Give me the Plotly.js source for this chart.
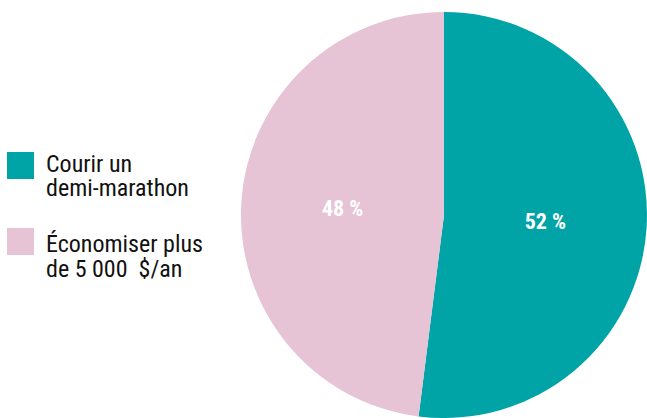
<!DOCTYPE html>
<html><head><meta charset="utf-8">
<script src="https://cdn.plot.ly/plotly-3.0.1.min.js"></script>
<style>body{margin:0;background:#fff}#c{width:647px;height:418px}</style>
</head><body><div id="c"></div>
<script>
const categories = ["Courir un<br>demi-marathon", "Économiser plus<br>de 5 000  $/an"];
const values = [52, 48];
const valueLabels = ["52 %", "48 %"];
const colors = ["#00A3A6", "#E6C3D5"];
const FONT = "Roboto Condensed, Roboto, sans-serif";

const trace = {
  type: 'pie', labels: categories, values: values, text: valueLabels,
  textinfo: 'text', textposition: 'inside', insidetextorientation: 'horizontal',
  sort: false, direction: 'clockwise', rotation: 0,
  marker: {colors: colors, line: {color: '#ffffff', width: 0}},
  textfont: {family: FONT, size: 22, color: '#ffffff', weight: 'bold'},
  domain: {x: [241/647, 1], y: [0, 406/418]},
  showlegend: false, hoverinfo: 'none'
};

const shapes = [], annotations = [];
const legendTop = [152, 228];
const baselines = [[172, 196], [252, 277]];
const FS = 24;
categories.forEach((c, i) => {
  const y0 = legendTop[i];
  shapes.push({type: 'rect', xref: 'paper', yref: 'paper',
    x0: 7/647, x1: 34/647, y0: 1 - (y0 + 27)/418, y1: 1 - y0/418,
    fillcolor: colors[i], line: {width: 0}});
  c.split('<br>').forEach((line, j) => {
    const yb = baselines[i][j];
    annotations.push({xref: 'paper', yref: 'paper', x: 45/647, y: 1 - (yb - 0.35*FS)/418,
      xanchor: 'left', yanchor: 'middle', align: 'left',
      showarrow: false, borderpad: 0,
      text: line, font: {family: FONT, size: FS, color: '#111111'}});
  });
});

Plotly.newPlot('c', [trace], {
  width: 647, height: 418, margin: {l: 0, r: 0, t: 0, b: 0},
  paper_bgcolor: '#fff', showlegend: false, shapes, annotations
}, {displayModeBar: false, staticPlot: true});
</script></body></html>
